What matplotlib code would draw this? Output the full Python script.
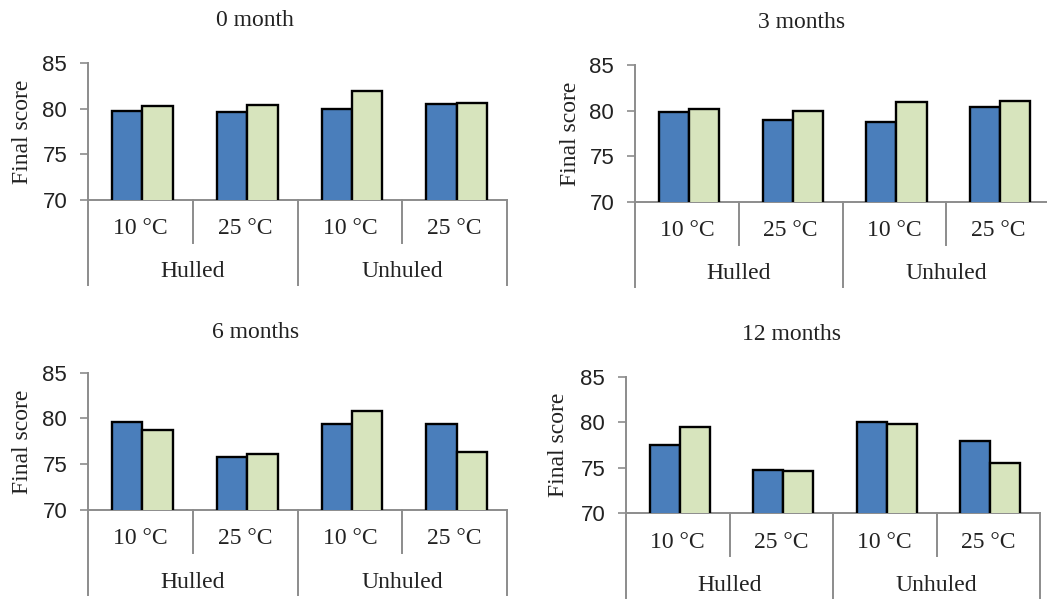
import numpy as np
import matplotlib.pyplot as plt

# ================================
# Data
# ================================

panel_titles = ["0 month", "3 months", "6 months", "12 months"]
temps = ["10 °C", "25 °C", "10 °C", "25 °C"]
groups = ["Hulled", "Unhuled"]

blue_0 = [79.7, 79.6, 80.0, 80.5]
green_0 = [80.25, 80.35, 81.9, 80.6]

blue_3 = [79.8, 79.0, 78.75, 80.4]
green_3 = [80.2, 79.9, 80.95, 81.1]

blue_6 = [79.6, 75.8, 79.35, 79.35]
green_6 = [78.7, 76.1, 80.8, 76.3]

blue_12 = [77.55, 74.8, 80.0, 77.95]
green_12 = [79.45, 74.6, 79.85, 75.55]

blue_series = [blue_0, blue_3, blue_6, blue_12]
green_series = [green_0, green_3, green_6, green_12]

# ================================
# Layout (pixel boxes of each plot area)
# ================================

W, H = 1047, 600
# left, right, top, bottom in pixels
boxes = [
    (88, 507, 63, 200),
    (635, 1050, 65, 201.7),
    (88, 507, 372.7, 510),
    (626, 1040, 376.7, 513.3),
]
title_pos = [(255, 20), (802, 23), (256, 332), (792, 335)]
ylabel_x = [23, 570, 23, 559]

BLUE = "#4a7ebb"
GREEN = "#d7e4bd"
AXIS = "#8c8c8c"
serif = ["Liberation Serif", "DejaVu Serif"]
sans = ["Liberation Sans", "DejaVu Sans"]

fig = plt.figure(figsize=(W / 100, H / 100), dpi=100)

x = np.arange(len(temps))
bw = 0.29

for k in range(4):
    l, r, t, b = boxes[k]
    ax = fig.add_axes([l / W, 1 - b / H, (r - l) / W, (b - t) / H])
    ax.bar(x - bw / 2 + 0.02, blue_series[k], bw, color=BLUE,
           edgecolor="black", linewidth=1.7, zorder=3)
    ax.bar(x + bw / 2 + 0.02, green_series[k], bw, color=GREEN,
           edgecolor="black", linewidth=1.7, zorder=3)
    ax.set_ylim(70, 85)
    ax.set_xlim(-0.5, 3.5)
    ax.set_yticks([70, 75, 80, 85])
    ax.tick_params(axis="y", direction="out", length=6, width=1.2,
                   color=AXIS, pad=9, labelsize=16)
    for lab in ax.get_yticklabels():
        lab.set_family(sans)
        lab.set_color("#222222")
    ax.set_xticks([])
    for s in ["top", "right"]:
        ax.spines[s].set_visible(False)
    for s in ["left", "bottom"]:
        ax.spines[s].set_color(AXIS)
        ax.spines[s].set_linewidth(1.4)

    # multi-level category axis
    hpx = b - t
    short = -43 / hpx
    long_ = -85 / hpx
    tr = ax.get_xaxis_transform()
    for xv in [0.5, 2.5]:
        ax.plot([xv, xv], [0, short], transform=tr, color=AXIS, lw=1.4,
                clip_on=False)
    for xv in [-0.5, 1.5, 3.5]:
        ax.plot([xv, xv], [0, long_], transform=tr, color=AXIS, lw=1.4,
                clip_on=False)
    for i, lab in enumerate(temps):
        ax.text(i, -29 / hpx, lab, transform=tr, ha="center", va="center",
                fontsize=17, family=serif, color="#222222")
    for j, g in enumerate(groups):
        ax.text(0.5 + 2 * j, -72 / hpx, g, transform=tr, ha="center",
                va="center", fontsize=17, family=serif, color="#222222")

    # y label and title
    fig.text(ylabel_x[k] / W, 1 - (t + b) / 2 / H, "Final score",
             rotation=90, ha="center", va="center", fontsize=17,
             family=serif, color="#222222")
    tx, ty = title_pos[k]
    fig.text(tx / W, 1 - ty / H, panel_titles[k], ha="center", va="center",
             fontsize=17, family=serif, color="#222222")

plt.savefig("out.png", dpi=100)
